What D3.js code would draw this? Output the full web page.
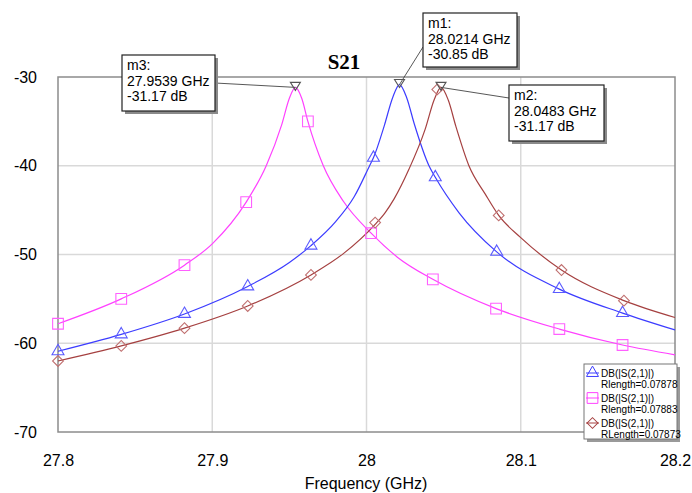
<!DOCTYPE html>
<html>
<head>
<meta charset="utf-8">
<script src="https://cdn.jsdelivr.net/npm/d3@7"></script>
<style>
  body { margin: 0; background: #fff; }
</style>
</head>
<body>
<div id="chart"></div>
<script>
"use strict";

// ---------------- data ----------------
var xTicks = [27.8, 27.9, 28, 28.1, 28.2];
var yTicks = [-30, -40, -50, -60, -70];
var chartTitle = "S21";
var xTitle = "Frequency (GHz)";

// blue trace, RLength = 0.07878
var blueFreq = [27.80, 27.841, 27.882, 27.923, 27.95, 27.964, 27.98, 27.992, 28.002, 28.0045, 28.0115, 28.017, 28.0214,
                28.026, 28.031, 28.0405, 28.0446, 28.06, 28.0844, 28.125, 28.166, 28.2];
var blueDb   = [-60.9, -59.0, -56.7, -53.6, -50.9, -49.0, -46.3, -43.5, -40.0, -39.1, -35.5, -32.3, -30.85,
                -32.3, -35.3, -40.0, -41.3, -45.3, -49.7, -53.9, -56.6, -58.5];
var blueMarkFreq = [27.80, 27.841, 27.882, 27.923, 27.964, 28.0045, 28.0446, 28.0844, 28.125, 28.166];
var blueMarkDb   = [-60.9, -59.0, -56.7, -53.6, -49.0, -39.1, -41.3, -49.7, -53.9, -56.6];

// pink trace, RLength = 0.07883
var pinkFreq = [27.80, 27.841, 27.882, 27.90, 27.922, 27.935, 27.945, 27.950, 27.9539, 27.958, 27.962, 27.972,
                27.985, 28.003, 28.02, 28.043, 28.084, 28.125, 28.166, 28.2];
var pinkDb   = [-57.8, -55.0, -51.2, -48.8, -44.1, -40.0, -35.4, -32.4, -31.17, -32.4, -35.0, -40.0,
                -44.0, -47.6, -50.3, -52.8, -56.1, -58.4, -60.2, -61.3];
var pinkMarkFreq = [27.80, 27.841, 27.882, 27.922, 27.962, 28.003, 28.043, 28.084, 28.125, 28.166];
var pinkMarkDb   = [-57.8, -55.0, -51.2, -44.1, -35.0, -47.6, -52.8, -56.1, -58.4, -60.2];

// brown trace, RLength = 0.07873
var brownFreq = [27.80, 27.841, 27.882, 27.923, 27.964, 27.985, 28.0056, 28.012, 28.018, 28.0275, 28.038, 28.044, 28.0483,
                 28.053, 28.058, 28.0664, 28.077, 28.0857, 28.1, 28.1264, 28.1669, 28.2];
var brownDb   = [-62.0, -60.3, -58.3, -55.8, -52.3, -49.9, -46.6, -45.3, -43.7, -40.4, -35.9, -32.5, -31.17,
                 -32.6, -35.6, -40.0, -43.2, -45.6, -48.1, -51.75, -55.2, -57.1];
var brownMarkFreq = [27.80, 27.841, 27.882, 27.923, 27.964, 28.0056, 28.0459, 28.0857, 28.1264, 28.1669];
var brownMarkDb   = [-62.0, -60.3, -58.3, -55.8, -52.3, -46.4, -31.4, -45.6, -51.75, -55.2];

// marker read-outs
var markerNames = ["m1", "m2", "m3"];
var markerFreq  = [28.0214, 28.0483, 27.9539];
var markerDb    = [-30.85, -31.17, -31.17];

var legendNames   = ["DB(|S(2,1)|)", "DB(|S(2,1)|)", "DB(|S(2,1)|)"];
var legendLengths = ["Rlength=0.07878", "Rlength=0.07883", "RLength=0.07873"];

// ---------------- layout ----------------
var W = 692, H = 493;
var plot = { left: 58, right: 675, top: 77, bottom: 432 };
var sans = "Arial, 'Liberation Sans', sans-serif";

var svg = d3.select("#chart").append("svg")
    .attr("width", W)
    .attr("height", H)
    .attr("font-family", sans);

var xScale = d3.scaleLinear().domain([27.8, 28.2]).range([plot.left, plot.right]);
var yScale = d3.scaleLinear().domain([-70, -30]).range([plot.bottom, plot.top]);

// grid
var grid = svg.append("g");
grid.selectAll("line.v").data(xTicks.slice(1, -1)).enter().append("line")
    .attr("x1", d => xScale(d)).attr("x2", d => xScale(d))
    .attr("y1", plot.top).attr("y2", plot.bottom)
    .attr("stroke", "#d9d9d9").attr("stroke-width", 1.5);
grid.selectAll("line.h").data(yTicks.slice(1, -1)).enter().append("line")
    .attr("y1", d => yScale(d)).attr("y2", d => yScale(d))
    .attr("x1", plot.left).attr("x2", plot.right)
    .attr("stroke", "#d9d9d9").attr("stroke-width", 1.5);

// frame
svg.append("rect")
    .attr("x", plot.left).attr("y", plot.top)
    .attr("width", plot.right - plot.left).attr("height", plot.bottom - plot.top)
    .attr("fill", "none").attr("stroke", "#8c8c8c").attr("stroke-width", 1.5);

// axes (labels only)
var yAxis = d3.axisLeft(yScale).tickValues(yTicks).tickSize(0).tickPadding(0).tickFormat(d => String(d));
svg.append("g")
    .attr("transform", "translate(37,0)")
    .call(yAxis)
    .call(g => g.select(".domain").remove())
    .call(g => g.selectAll("text").attr("font-size", 16).attr("fill", "#000").attr("font-family", sans));

var xAxis = d3.axisBottom(xScale).tickValues(xTicks).tickSize(0).tickPadding(0).tickFormat(d => String(d));
svg.append("g")
    .attr("transform", "translate(0,455)")
    .call(xAxis)
    .call(g => g.select(".domain").remove())
    .call(g => g.selectAll("text").attr("font-size", 16).attr("fill", "#000").attr("font-family", sans));

// titles
svg.append("text")
    .attr("x", 344).attr("y", 69)
    .attr("text-anchor", "middle")
    .attr("font-family", "'Times New Roman', 'Liberation Serif', serif")
    .attr("font-weight", "bold").attr("font-size", 21)
    .text(chartTitle);

svg.append("text")
    .attr("x", 366).attr("y", 489)
    .attr("text-anchor", "middle")
    .attr("font-size", 16)
    .text(xTitle);

// ---------------- traces ----------------
var line = d3.line()
    .x(d => xScale(d[0]))
    .y(d => yScale(d[1]))
    .curve(d3.curveMonotoneX);

var series = [
    { color: "#3c3cff", mark: "#5a5aff", freq: blueFreq, db: blueDb, mf: blueMarkFreq, md: blueMarkDb, shape: "tri" },
    { color: "#ff40ff", mark: "#ff60ff", freq: pinkFreq, db: pinkDb, mf: pinkMarkFreq, md: pinkMarkDb, shape: "sq" },
    { color: "#a54040", mark: "#c07070", freq: brownFreq, db: brownDb, mf: brownMarkFreq, md: brownMarkDb, shape: "dia" }
];

function shapePath(shape) {
    if (shape === "tri") return d3.symbol().type(d3.symbolTriangle).size(62)();
    if (shape === "sq") return d3.symbol().type(d3.symbolSquare).size(115)();
    return d3.symbol().type(d3.symbolSquare).size(58)();
}
function shapeRotate(shape) { return shape === "dia" ? " rotate(45)" : ""; }

[1, 0, 2].forEach(function (i) {
    var s = series[i];
    svg.append("path")
        .datum(s.freq.map((f, k) => [f, s.db[k]]))
        .attr("d", line)
        .attr("fill", "none")
        .attr("stroke", s.color)
        .attr("stroke-width", 1.2);
});

series.forEach(function (s) {
    svg.append("g").selectAll("path")
        .data(s.mf.map((f, k) => [f, s.md[k]]))
        .enter().append("path")
        .attr("d", shapePath(s.shape))
        .attr("transform", d => "translate(" + xScale(d[0]) + "," + yScale(d[1]) + ")" + shapeRotate(s.shape))
        .attr("fill", "none")
        .attr("stroke", s.mark)
        .attr("stroke-width", 1.1);
});

// ---------------- marker read-outs ----------------
var boxes = [
    { x: 423, y: 13, w: 94, h: 54, lx: 423, ly: 47 },
    { x: 509, y: 85, w: 95, h: 56, lx: 509, ly: 98 },
    { x: 122, y: 55, w: 93, h: 56, lx: 215, ly: 83 }
];

markerNames.forEach(function (name, i) {
    var px = xScale(markerFreq[i]), py = yScale(markerDb[i]);
    var b = boxes[i];

    svg.append("line")
        .attr("x1", b.lx).attr("y1", b.ly)
        .attr("x2", px).attr("y2", py)
        .attr("stroke", "#444").attr("stroke-width", 0.9);

    // inverted triangle at the peak
    svg.append("path")
        .attr("d", "M" + (px - 5) + "," + (py - 5) + "L" + (px + 5) + "," + (py - 5) + "L" + px + "," + (py + 3) + "Z")
        .attr("fill", "none").attr("stroke", "#555").attr("stroke-width", 1.1);

    // shadow
    svg.append("rect")
        .attr("x", b.x + 3).attr("y", b.y + 3)
        .attr("width", b.w).attr("height", b.h)
        .attr("fill", "#8a8a8a");
    svg.append("rect")
        .attr("x", b.x).attr("y", b.y)
        .attr("width", b.w).attr("height", b.h)
        .attr("fill", "#fff").attr("stroke", "#222").attr("stroke-width", 1.2);

    var lines = [name + ":", markerFreq[i].toFixed(4) + " GHz", markerDb[i].toFixed(2) + " dB"];
    svg.append("text")
        .attr("x", b.x + 5).attr("y", b.y + 15)
        .attr("font-size", 14)
        .selectAll("tspan").data(lines).enter().append("tspan")
        .attr("x", b.x + 5)
        .attr("dy", (d, k) => k === 0 ? 0 : 15.5)
        .text(d => d);
});

// ---------------- legend ----------------
var lg = svg.append("g").attr("transform", "translate(584,364)");
lg.append("rect").attr("x", 3).attr("y", 3).attr("width", 93).attr("height", 75).attr("fill", "#9a9a9a");
lg.append("rect").attr("x", 0).attr("y", 0).attr("width", 93).attr("height", 75)
    .attr("fill", "#fff").attr("stroke", "#777").attr("stroke-width", 1);

series.forEach(function (s, i) {
    var yy = 9 + i * 25;
    lg.append("line")
        .attr("x1", 2).attr("x2", 15).attr("y1", yy).attr("y2", yy)
        .attr("stroke", s.color).attr("stroke-width", 1);
    lg.append("path")
        .attr("d", shapePath(s.shape))
        .attr("transform", "translate(8.5," + yy + ")" + shapeRotate(s.shape))
        .attr("fill", "none").attr("stroke", s.color).attr("stroke-width", 1);
    lg.append("text")
        .attr("x", 17).attr("y", yy + 4)
        .attr("font-size", 10)
        .text(legendNames[i]);
    lg.append("text")
        .attr("x", 17).attr("y", yy + 15)
        .attr("font-size", 10)
        .text(legendLengths[i]);
});
</script>
</body>
</html>
